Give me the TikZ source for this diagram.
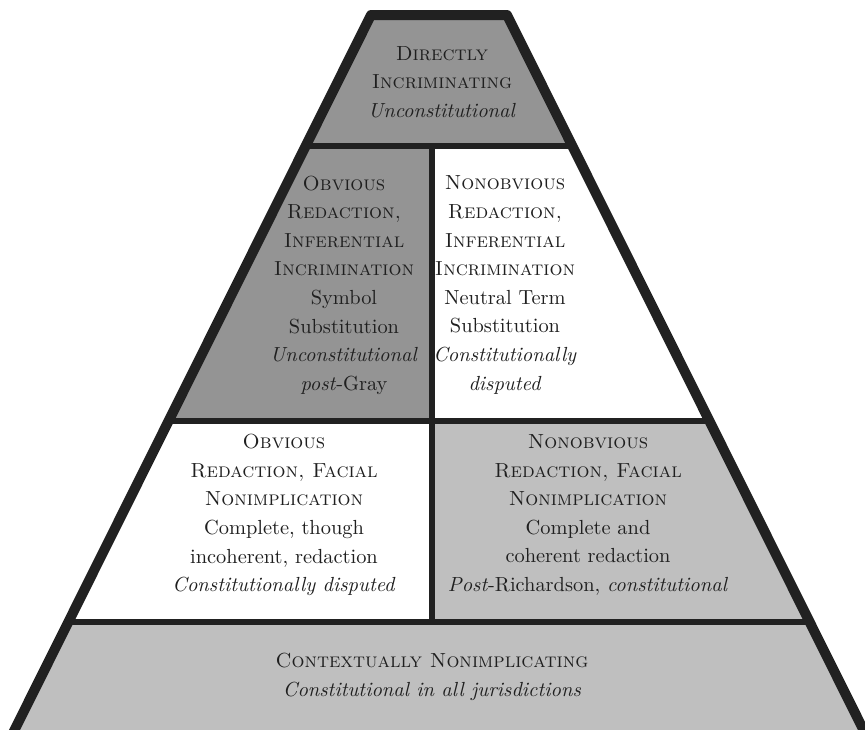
\documentclass[tikz,border=0pt]{standalone}
\usepackage{tikz}
\usetikzlibrary{
  positioning,
  calc
}
\usepackage{xcolor}
\definecolor{darkTier}{rgb}{0.58,0.58,0.58}
\definecolor{lightTier}{rgb}{0.75,0.75,0.75}
\definecolor{borderInk}{rgb}{0.13,0.13,0.13}
\definecolor{textInk}{rgb}{0.12,0.12,0.12}
\newcommand{\tierCell}[3]{\node[tierText] (#1) at (#2) {#3};}
\tikzset{
  tierText/.style={
    align=center,
    inner sep=0pt,
    text=textInk,
    font=\fontsize{10.2}{14.3}\selectfont
  }
}
\tikzset{
  divider/.style={
    draw=borderInk,
    line width=3pt
  }
}
\tikzset{
  outline/.style={
    draw=borderInk,
    line width=5pt,
    line join=round
  }
}

\begin{document}
\begin{tikzpicture}[x=0.5pt, y=-0.5pt]
    \useasboundingbox (0,0) rectangle (865,729);
    % corners of the pyramid (centre of the border)
    \coordinate (topLeft) at (371,15);
    \coordinate (topRight) at (507,15);
    \coordinate (baseLeft) at (12,735);
    \coordinate (baseRight) at (866,735);
    % tiers
    \begin{scope}
      \clip (topLeft) -- (topRight) -- (baseRight) -- (baseLeft) -- cycle;
      \fill[darkTier] (0,0) rectangle (865,146);
      \fill[darkTier] (0,146) rectangle (432,421);
      \fill[white] (432,146) rectangle (865,421);
      \fill[white] (0,421) rectangle (432,622);
      \fill[lightTier] (432,421) rectangle (865,622);
      \fill[lightTier] (0,622) rectangle (865,740);
      \draw[divider] (0,146) -- (865,146);
      \draw[divider] (0,421) -- (865,421);
      \draw[divider] (0,622) -- (865,622);
      \draw[divider] (432,146) -- (432,622);
    \end{scope}
    \draw[outline] (topLeft) -- (topRight) -- (baseRight) -- (baseLeft) -- cycle;
    % labels
    \tierCell{direct}{442,82}{\textsc{Directly}\\ \textsc{Incriminating}\\ \textit{Unconstitutional}}
    \tierCell{symbol}{344,285}{\textsc{Obvious}\\ \textsc{Redaction,}\\ \textsc{Inferential}\\
      \textsc{Incrimination}\\ Symbol\\ Substitution\\ \textit{Unconstitutional}\\ \textit{post}-Gray}
    \tierCell{neutral}{505,285}{\textsc{Nonobvious}\\ \textsc{Redaction,}\\ \textsc{Inferential}\\
      \textsc{Incrimination}\\ Neutral Term\\ Substitution\\ \textit{Constitutionally}\\ \textit{disputed}}
    \tierCell{incoherent}{284,515}{\textsc{Obvious}\\ \textsc{Redaction, Facial}\\ \textsc{Nonimplication}\\
      Complete, though\\ incoherent, redaction\\ \textit{Constitutionally disputed}}
    \tierCell{coherent}{588,515}{\textsc{Nonobvious}\\ \textsc{Redaction, Facial}\\ \textsc{Nonimplication}\\
      Complete and\\ coherent redaction\\ \textit{Post}-Richardson, \textit{constitutional}}
    \tierCell{context}{432,677}{\textsc{Contextually Nonimplicating}\\ \textit{Constitutional in all jurisdictions}}
  \end{tikzpicture}
\end{document}
